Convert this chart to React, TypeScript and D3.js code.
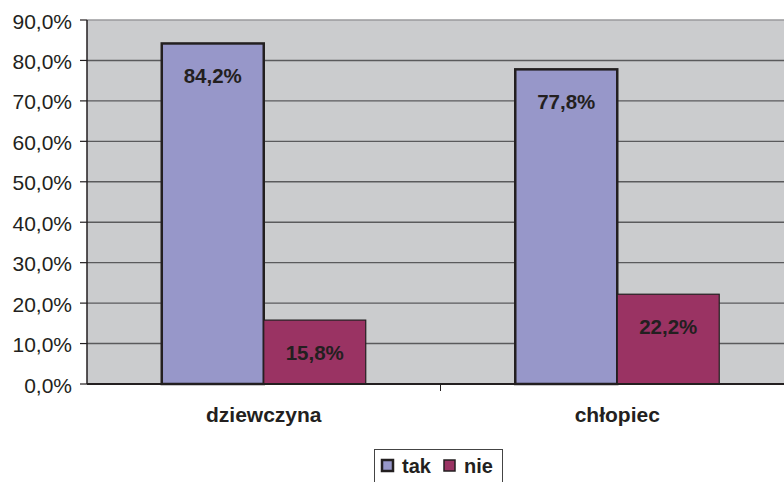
import React from "react";
import * as d3 from "d3";

const categories = ["dziewczyna", "chłopiec"];
const seriesNames = ["tak", "nie"];
const takValues = [0.842, 0.778];
const nieValues = [0.158, 0.222];
const yTicks = [0, 0.1, 0.2, 0.3, 0.4, 0.5, 0.6, 0.7, 0.8, 0.9];

const COLORS: Record<string, string> = { tak: "#9797C9", nie: "#9A3363" };
const STROKES: Record<string, number> = { tak: 2.5, nie: 1.2 };
const TEXT = "#231F20";
const FONT = "'Liberation Sans', Arial, sans-serif";

const fmt = (v: number) => (v * 100).toFixed(1).replace(".", ",") + "%";

export default function App() {
  const W = 784, H = 482;
  const left = 87, right = 794, top = 20, bottom = 384;
  const x0 = d3.scaleBand<string>().domain(categories).range([left, right]).padding(0);
  const x1 = d3.scaleBand<string>().domain(seriesNames).range([0, x0.bandwidth()]).paddingInner(0).paddingOuter(0.733);
  const y = d3.scaleLinear().domain([0, 0.9]).range([bottom, top]);
  const valuesBy: Record<string, number[]> = { tak: takValues, nie: nieValues };

  return (
    <svg width={W} height={H} style={{ position: "absolute", left: 0, top: 0, background: "#fff" }} fontFamily={FONT}>
      <rect x={left} y={top} width={W - left} height={bottom - top} fill="#CBCCCE" />
      {yTicks.filter((t) => t > 0 && t < 0.9).map((t) => (
        <line key={t} x1={left} x2={W} y1={y(t)} y2={y(t)} stroke="#5A5A5C" strokeWidth={1.4} />
      ))}
      <line x1={left} x2={W} y1={y(0.9)} y2={y(0.9)} stroke="#9A9A9C" strokeWidth={1.5} />
      {categories.map((c, ci) =>
        seriesNames.map((s) => {
          const v = valuesBy[s][ci];
          const bx = (x0(c) as number) + (x1(s) as number);
          const bw = x1.bandwidth();
          return (
            <g key={c + s}>
              <rect x={bx} y={y(v)} width={bw} height={bottom - y(v)} fill={COLORS[s]} stroke={TEXT} strokeWidth={STROKES[s]} />
              <text x={bx + bw / 2} y={y(v) + 40} textAnchor="middle" fontWeight="bold" fontSize={20.5} fill={TEXT}>
                {fmt(v)}
              </text>
            </g>
          );
        })
      )}
      <line x1={left} x2={left} y1={top} y2={bottom} stroke={TEXT} strokeWidth={1.5} />
      <line x1={left} x2={W} y1={bottom} y2={bottom} stroke={TEXT} strokeWidth={1.8} />
      {yTicks.map((t) => (
        <g key={t}>
          <line x1={80} x2={left} y1={y(t)} y2={y(t)} stroke={TEXT} strokeWidth={1.2} />
          <text x={72} y={y(t) + 8.5} textAnchor="end" fontSize={21} fill={TEXT}>
            {fmt(t)}
          </text>
        </g>
      ))}
      {categories.slice(1).map((c) => (
        <line key={c} x1={x0(c) as number} x2={x0(c) as number} y1={bottom} y2={bottom + 7} stroke={TEXT} strokeWidth={1} />
      ))}
      {categories.map((c) => (
        <text key={c} x={(x0(c) as number) + x0.bandwidth() / 2} y={422} textAnchor="middle" fontWeight="bold" fontSize={21} fill={TEXT}>
          {c}
        </text>
      ))}
      <rect x={374.5} y={449.5} width={128} height={40} fill="#fff" stroke="#444" strokeWidth={1} />
      {seriesNames.map((s, i) => {
        const mx = i === 0 ? 381 : 443;
        return (
          <g key={s}>
            <rect x={mx + 1} y={460} width={11} height={11} fill={COLORS[s]} stroke={TEXT} strokeWidth={i === 0 ? 2.5 : 1.5} />
            <text x={mx + 21} y={473} fontWeight="bold" fontSize={20} fill={TEXT}>
              {s}
            </text>
          </g>
        );
      })}
    </svg>
  );
}
